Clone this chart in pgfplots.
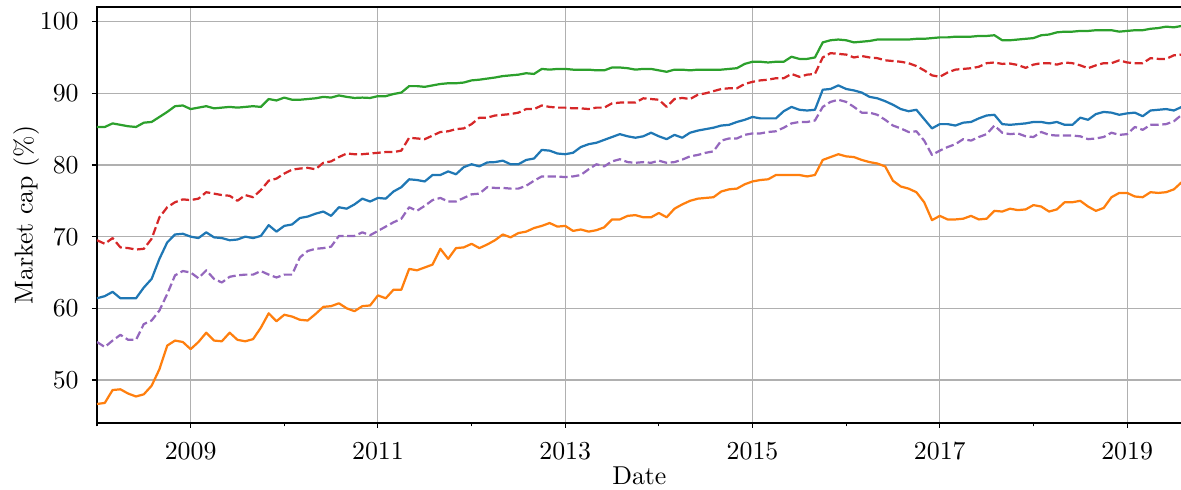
\documentclass[border=0pt]{standalone}
\usepackage{fontspec}
\setmainfont{lmroman10-regular.otf}
\usepackage{pgfplots}
\usepackage{pgfplotstable}
\pgfplotsset{compat=1.18}
\definecolor{tabblue}{HTML}{1F77B4}
\definecolor{taborange}{HTML}{FF7F0E}
\definecolor{tabgreen}{HTML}{2CA02C}
\definecolor{tabred}{HTML}{D62728}
\definecolor{tabpurple}{HTML}{9467BD}
\definecolor{gridgray}{HTML}{B0B0B0}
\pgfplotstableread{
m g r b p o
0 85.3 69.5 61.4 55.3 46.65
1 85.3 69.0 61.7 54.6 46.8
2 85.8 69.8 62.3 55.5 48.6
3 85.6 68.5 61.4 56.3 48.7
4 85.4 68.4 61.4 55.6 48.1
5 85.3 68.2 61.4 55.6 47.7
6 85.9 68.3 62.9 57.8 48.0
7 86.0 69.7 64.1 58.3 49.2
8 86.7 72.7 66.9 59.7 51.5
9 87.4 74.1 69.2 62.0 54.8
10 88.2 74.8 70.3 64.6 55.5
11 88.3 75.2 70.4 65.2 55.3
12 87.8 75.1 70.0 65.0 54.3
13 88.0 75.3 69.8 64.2 55.3
14 88.2 76.2 70.6 65.3 56.6
15 87.9 76.0 69.9 64.1 55.5
16 88.0 75.8 69.8 63.6 55.4
17 88.1 75.7 69.5 64.4 56.6
18 88.0 75.0 69.6 64.6 55.6
19 88.1 75.8 70.0 64.7 55.4
20 88.2 75.5 69.8 64.7 55.7
21 88.1 76.5 70.1 65.2 57.3
22 89.2 77.8 71.6 64.7 59.3
23 89.0 78.1 70.7 64.3 58.2
24 89.4 78.8 71.5 64.7 59.1
25 89.1 79.35 71.7 64.7 58.85
26 89.1 79.5 72.6 67.1 58.4
27 89.2 79.6 72.8 68.0 58.3
28 89.3 79.4 73.2 68.3 59.2
29 89.5 80.3 73.5 68.4 60.2
30 89.4 80.5 72.9 68.6 60.3
31 89.7 81.1 74.1 70.1 60.7
32 89.5 81.6 73.9 70.1 60.0
33 89.35 81.5 74.5 70.1 59.6
34 89.4 81.5 75.3 70.6 60.3
35 89.35 81.6 74.9 70.2 60.4
36 89.6 81.7 75.4 70.8 61.8
37 89.6 81.8 75.3 71.4 61.4
38 89.9 81.8 76.3 72.0 62.6
39 90.1 82.0 76.9 72.5 62.6
40 91.0 83.8 78.0 74.1 65.5
41 91.0 83.7 77.9 73.6 65.3
42 90.9 83.6 77.7 74.3 65.7
43 91.1 84.1 78.6 75.1 66.1
44 91.3 84.6 78.6 75.4 68.3
45 91.4 84.7 79.1 74.9 66.9
46 91.4 85.0 78.7 74.9 68.4
47 91.5 85.1 79.7 75.4 68.5
48 91.8 85.7 80.1 75.9 69.0
49 91.9 86.6 79.8 76.0 68.4
50 92.05 86.6 80.35 76.9 68.9
51 92.2 86.9 80.4 76.8 69.5
52 92.4 87.0 80.6 76.8 70.3
53 92.5 87.1 80.1 76.7 69.9
54 92.6 87.3 80.1 76.7 70.5
55 92.8 87.8 80.7 77.1 70.7
56 92.7 87.8 80.9 77.8 71.2
57 93.4 88.3 82.1 78.4 71.5
58 93.3 88.1 82.0 78.4 71.9
59 93.4 88.0 81.6 78.4 71.4
60 93.4 88.0 81.5 78.3 71.5
61 93.3 87.9 81.7 78.4 70.8
62 93.3 87.9 82.5 78.6 71.0
63 93.3 87.8 82.9 79.4 70.7
64 93.2 88.0 83.1 80.1 70.9
65 93.2 88.0 83.5 79.8 71.3
66 93.6 88.6 83.9 80.5 72.4
67 93.6 88.7 84.3 80.8 72.4
68 93.5 88.7 84.0 80.4 72.9
69 93.3 88.7 83.8 80.3 73.0
70 93.4 89.3 84.0 80.4 72.7
71 93.4 89.2 84.5 80.3 72.7
72 93.2 89.1 84.0 80.6 73.3
73 93.0 88.1 83.6 80.3 72.7
74 93.3 89.2 84.2 80.4 73.9
75 93.3 89.35 83.8 80.75 74.5
76 93.2 89.2 84.5 81.2 75.0
77 93.3 89.8 84.8 81.4 75.3
78 93.3 90.0 85.0 81.7 75.4
79 93.3 90.3 85.2 81.9 75.5
80 93.3 90.6 85.5 83.4 76.3
81 93.4 90.7 85.6 83.7 76.6
82 93.5 90.7 86.0 83.7 76.7
83 94.1 91.3 86.3 84.2 77.3
84 94.4 91.6 86.7 84.4 77.7
85 94.4 91.8 86.5 84.4 77.9
86 94.3 91.9 86.5 84.6 78.0
87 94.4 92.1 86.5 84.7 78.6
88 94.4 92.1 87.5 85.2 78.6
89 95.1 92.7 88.1 85.8 78.6
90 94.8 92.3 87.7 86.0 78.6
91 94.8 92.6 87.6 86.0 78.4
92 95.0 92.7 87.7 86.2 78.6
93 97.1 95.0 90.5 88.1 80.7
94 97.4 95.6 90.6 88.8 81.1
95 97.5 95.5 91.1 89.1 81.5
96 97.4 95.4 90.6 88.8 81.2
97 97.1 95.0 90.4 88.1 81.1
98 97.2 95.2 90.1 87.3 80.7
99 97.3 95.0 89.5 87.3 80.4
100 97.5 94.9 89.3 87.0 80.2
101 97.5 94.6 88.9 86.3 79.8
102 97.5 94.5 88.4 85.5 77.8
103 97.5 94.4 87.8 85.1 77.0
104 97.5 94.2 87.5 84.6 76.7
105 97.6 93.8 87.7 84.7 76.2
106 97.6 93.2 86.4 83.4 74.8
107 97.7 92.5 85.1 81.4 72.3
108 97.8 92.3 85.7 82.0 72.9
109 97.8 92.9 85.7 82.5 72.4
110 97.9 93.3 85.5 82.9 72.4
111 97.9 93.4 85.9 83.6 72.5
112 97.9 93.5 86.0 83.4 72.9
113 98.0 93.7 86.5 83.9 72.4
114 98.0 94.2 86.9 84.3 72.5
115 98.1 94.3 87.0 85.5 73.6
116 97.4 94.1 85.7 84.5 73.5
117 97.4 94.15 85.6 84.3 73.9
118 97.5 93.95 85.7 84.4 73.7
119 97.6 93.55 85.8 84.0 73.8
120 97.7 94.0 86.0 83.9 74.4
121 98.1 94.2 86.0 84.6 74.2
122 98.2 94.2 85.8 84.2 73.5
123 98.5 94.0 86.0 84.1 73.8
124 98.6 94.3 85.6 84.1 74.8
125 98.6 94.2 85.6 84.1 74.8
126 98.7 93.9 86.6 84.0 75.0
127 98.7 93.5 86.3 83.6 74.2
128 98.8 93.9 87.1 83.7 73.6
129 98.8 94.2 87.4 83.9 74.0
130 98.8 94.2 87.3 84.5 75.5
131 98.6 94.6 87.0 84.2 76.1
132 98.7 94.3 87.2 84.3 76.1
133 98.8 94.2 87.3 85.3 75.6
134 98.8 94.2 86.8 84.9 75.5
135 99.0 94.9 87.6 85.6 76.2
136 99.1 94.8 87.7 85.6 76.1
137 99.3 94.8 87.8 85.7 76.2
138 99.2 95.3 87.6 86.1 76.6
139 99.4 95.4 88.1 87.0 77.6
}\data
\begin{document}
\begin{tikzpicture}
\begin{axis}[
  at={(0pt,0pt)}, anchor=south west,
  scale only axis, width=781pt, height=299.52pt,
  xmin=0, xmax=139, ymin=44.0, ymax=102.04,
  xtick={12,36,60,84,108,132},
  xticklabels={2009,2011,2013,2015,2017,2019},
  minor xtick={0,24,48,72,96,120},
  ytick={50,60,70,80,90,100},
  xtick pos=lower, ytick pos=left,
  tick align=outside,
  major tick length=3.6pt, minor tick length=2.4pt,
  every tick/.style={black, line width=0.8pt},
  axis line style={line width=0.8pt, black},
  grid=major,
  major grid style={color=gridgray, line width=0.8pt},
  /pgf/number format/assume math mode=true,
  tick label style={font=\fontsize{18.6}{22}\selectfont, inner sep=0pt},
  xticklabel style={anchor=north, yshift=-9.8pt},
  yticklabel style={anchor=east, xshift=-9.4pt},
  xticklabel shift=0pt, yticklabel shift=0pt,
  every axis x label/.style={at={([yshift=-31.7pt]axis description cs:0.5,0)}, anchor=north, inner sep=0pt, font=\fontsize{18.6}{22}\selectfont},
  every axis y label/.style={at={([xshift=-51pt]axis description cs:0,0.5)}, rotate=90, anchor=center, inner sep=0pt, font=\fontsize{18.6}{22}\selectfont},
  xlabel={Date},
  ylabel={Market cap (\%)},
  every axis plot/.append style={line width=1.6pt, line join=round},
]
\addplot[tabblue] table[x=m, y=b]{\data};
\addplot[taborange] table[x=m, y=o]{\data};
\addplot[tabgreen] table[x=m, y=g]{\data};
\addplot[tabred, dash pattern=on 5.9pt off 2.6pt] table[x=m, y=r]{\data};
\addplot[tabpurple, dash pattern=on 5.9pt off 2.6pt] table[x=m, y=p]{\data};
\end{axis}
\pgfresetboundingbox
\path[use as bounding box] (-69.84pt,-48.24pt) rectangle (780.5pt,304.56pt);
\end{tikzpicture}
\end{document}
